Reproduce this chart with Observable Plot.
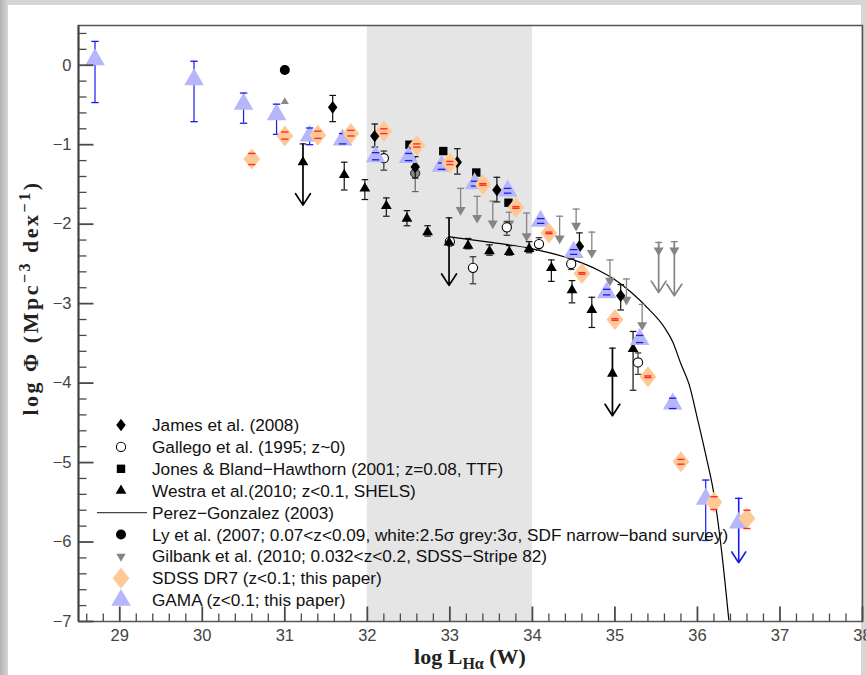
<!DOCTYPE html>
<html><head><meta charset="utf-8">
<script src="https://cdn.jsdelivr.net/npm/d3@7"></script>
<script src="https://cdn.jsdelivr.net/npm/@observablehq/plot@0.6"></script>
<style>
html,body{margin:0;padding:0;}
body{width:866px;height:675px;position:relative;overflow:hidden;background:linear-gradient(90deg,#b4b4b4 0px,#d6d6d6 8px,#d6d6d6 100%);font-family:"Liberation Sans",Arial,sans-serif;}
#panel{position:absolute;left:8px;top:5px;width:853px;height:690px;background:#fff;}
#chart{position:absolute;left:0;top:0;}
#chart svg{overflow:visible;}
#overlay{position:absolute;left:0;top:0;pointer-events:none;}
.ttl{position:absolute;white-space:nowrap;font-family:"Liberation Serif","Times New Roman",serif;font-weight:bold;font-size:22px;line-height:14px;color:#222;}
.ttl sup,.ttl sub{font-size:16px;line-height:0;}
</style></head>
<body>
<div id="panel"></div>
<div id="chart"></div>
<svg id="overlay" width="866" height="675"></svg>
<div class="ttl" id="ytitle" style="left:31px;top:298px;letter-spacing:2.5px;transform:translate(-50%,-50%) rotate(-90deg);">log Φ (Mpc<sup>−3</sup> dex<sup>−1</sup>)</div>
<div class="ttl" id="xtitle" style="left:470px;top:650px;transform:translateX(-50%);">log L<sub>Hα</sub> (W)</div>
<script>
// ---------------- data ----------------
const xTicks = [29,30,31,32,33,34,35,36,37,38];
const yTicks = [-7,-6,-5,-4,-3,-2,-1,0];
const shadeRange = [32, 34];

// GAMA (z<0.1; this paper)
const gamaX  = [28.7,29.9,30.5,30.9,31.3,31.7,32.1,32.5,32.9,33.3,33.7,34.1,34.5,34.9,35.3,35.7,36.1,36.5];
const gamaY  = [0.07,-0.18,-0.49,-0.62,-0.89,-0.94,-1.15,-1.16,-1.27,-1.49,-1.58,-1.96,-2.35,-2.86,-3.45,-4.26,-5.46,-5.76];
const gamaLo = [-0.47,-0.71,-0.73,-0.87,-1.00,-0.99,-1.19,-1.20,-1.31,-1.52,-1.61,-1.99,-2.38,-2.89,-3.49,-4.32,-5.98,-6.26];
const gamaHi = [0.30,0.05,-0.35,-0.49,-0.79,-0.86,-1.10,-1.11,-1.23,-1.46,-1.55,-1.93,-2.32,-2.82,-3.40,-4.19,-5.22,-5.45];
const gamaLimit = [0,0,0,0,0,0,0,0,0,0,0,0,0,0,0,0,0,1];

// SDSS DR7 (z<0.1; this paper)
const sdssX  = [30.6,31.0,31.4,31.8,32.2,32.6,33.0,33.4,33.8,34.2,34.6,35.0,35.4,35.8,36.2,36.6];
const sdssY  = [-1.18,-0.89,-0.88,-0.86,-0.83,-1.01,-1.23,-1.50,-1.79,-2.11,-2.62,-3.20,-3.92,-4.99,-5.50,-5.70];
const sdssLo = [-1.25,-0.93,-0.92,-0.89,-0.86,-1.03,-1.25,-1.51,-1.80,-2.12,-2.63,-3.21,-3.93,-5.02,-5.59,-5.83];
const sdssHi = [-1.11,-0.84,-0.83,-0.82,-0.80,-0.99,-1.21,-1.49,-1.78,-2.10,-2.61,-3.19,-3.91,-4.96,-5.43,-5.60];

// James et al. (2008)
const jamesX  = [31.58,32.09,32.58,33.09,33.57,34.57,35.07];
const jamesY  = [-0.53,-0.89,-1.28,-1.22,-1.57,-2.28,-2.90];
const jamesLo = [-0.71,-1.03,-1.42,-1.37,-1.72,-2.41,-3.08];
const jamesHi = [-0.38,-0.74,-1.15,-1.05,-1.41,-2.11,-2.76];

// Gallego et al. (1995)
const gallegoX  = [32.2,33.0,33.28,33.69,34.08,34.47,35.28];
const gallegoY  = [-1.17,-2.22,-2.55,-2.04,-2.25,-2.50,-3.74];
const gallegoLo = [-1.32,-2.22,-2.75,-2.14,-2.33,-2.57,-3.89];
const gallegoHi = [-1.08,-2.22,-2.41,-1.97,-2.17,-2.43,-3.62];

// Jones & Bland-Hawthorn (2001)
const jonesX = [32.51,32.92,33.32,33.71];
const jonesY = [-1.00,-1.08,-1.35,-1.73];

// Westra et al. (2010)
const westraX  = [31.22,31.72,31.97,32.23,32.48,32.73,32.99,33.22,33.48,33.72,33.96,34.23,34.48,34.72,34.97,35.22];
const westraY  = [-1.22,-1.38,-1.55,-1.77,-1.93,-2.10,-2.23,-2.27,-2.34,-2.35,-2.31,-2.55,-2.83,-3.08,-3.88,-3.57];
const westraLo = [-1.76,-1.57,-1.69,-1.90,-2.02,-2.15,-2.77,-2.31,-2.39,-2.39,-2.36,-2.72,-2.99,-3.30,-4.41,-4.09];
const westraHi = [-0.99,-1.22,-1.44,-1.67,-1.83,-2.02,-1.92,-2.18,-2.26,-2.27,-2.22,-2.45,-2.71,-2.92,-3.56,-3.35];
const westraLimit = [1,0,0,0,0,0,1,0,0,0,0,0,0,0,1,0];

// Perez-Gonzalez (2003) curve
const pgX = [33.0,33.5,34.0,34.5,34.8,35.0,35.2,35.4,35.6,35.7,35.8,35.9,36.0,36.1,36.2,36.3,36.38];
const pgY = [-2.16,-2.23,-2.31,-2.45,-2.58,-2.70,-2.86,-3.06,-3.30,-3.48,-3.76,-4.02,-4.45,-4.90,-5.40,-6.18,-6.98];

// Ly et al. (2007)
const lyX = [31.0];
const lyY = [-0.06];
const lyGreyX = [31.0, 32.58];
const lyGreyY = [-0.46, -1.36];
const lyGreyKind = ["triangle","circle"];
const lyGreyLo = [null, -1.59];
const lyGreyHi = [null, -1.26];

// Gilbank et al. (2010)
const gilX   = [33.13,33.33,33.52,33.72,33.93,34.33,34.53,34.72,34.94,35.14,35.33,35.53,35.72];
const gilY   = [-1.82,-1.92,-1.99,-1.99,-2.15,-2.18,-2.02,-2.36,-2.71,-2.95,-3.27,-2.33,-2.33];
const gilTop = [-1.55,-1.65,-1.71,-1.85,-1.86,-1.90,-1.81,-2.10,-2.45,-2.69,-3.01,-2.23,-2.22];
const gilTip = [null,null,null,null,null,null,null,null,null,null,null,-2.86,-2.90];

const legendLabels = [
  "James et al. (2008)",
  "Gallego et al. (1995; z~0)",
  "Jones & Bland\u2212Hawthorn (2001; z=0.08, TTF)",
  "Westra et al.(2010; z<0.1, SHELS)",
  "Perez\u2212Gonzalez (2003)",
  "Ly et al. (2007; 0.07<z<0.09, white:2.5\u03c3 grey:3\u03c3, SDF narrow\u2212band survey)",
  "Gilbank et al. (2010; 0.032<z<0.2, SDSS\u2212Stripe 82)",
  "SDSS DR7 (z<0.1; this paper)",
  "GAMA (z<0.1; this paper)"
];
const legendKeys = ["james","gallego","jones","westra","perez","ly","gilbank","sdss","gama"];

// ---------------- styles ----------------
const C = {gamaFill:"#b6b6fa", gamaErr:"#1a1aee", sdssFill:"#ffc995", sdssErr:"#ff2a2a", grey:"#858585", shade:"#e5e5e5", axis:"#4a4a4a"};

const rOf = size => Math.sqrt(size/Math.PI);
const diamond = ratio => ({draw(ctx,size){const r=rOf(size),w=r*ratio;ctx.moveTo(0,-r);ctx.lineTo(w,0);ctx.lineTo(0,r);ctx.lineTo(-w,0);ctx.closePath();}});
const triUp = {draw(ctx,size){const r=rOf(size),h=r*Math.sqrt(3);ctx.moveTo(0,-2*h/3);ctx.lineTo(r,h/3);ctx.lineTo(-r,h/3);ctx.closePath();}};
const triDown = {draw(ctx,size){const r=rOf(size),h=r*Math.sqrt(3);ctx.moveTo(0,2*h/3);ctx.lineTo(r,-h/3);ctx.lineTo(-r,-h/3);ctx.closePath();}};
const square = {draw(ctx,size){const r=rOf(size);ctx.rect(-r,-r,2*r,2*r);}};
const circle = {draw(ctx,size){const r=rOf(size);ctx.moveTo(r,0);ctx.arc(0,0,r,0,2*Math.PI);}};
const cap = {draw(ctx,size){const r=rOf(size);ctx.moveTo(-r,0);ctx.lineTo(r,0);}};
const vTick = {draw(ctx,size){const r=rOf(size);ctx.moveTo(0,0);ctx.lineTo(0,-r);}};
const hTick = {draw(ctx,size){const r=rOf(size);ctx.moveTo(0,0);ctx.lineTo(r,0);}};

const zip = (xs, f) => xs.map((x,i) => f(x,i));
const gama = zip(gamaX,(x,i)=>({x,y:gamaY[i],lo:gamaLo[i],hi:gamaHi[i],lim:gamaLimit[i]}));
const sdss = zip(sdssX,(x,i)=>({x,y:sdssY[i],lo:sdssLo[i],hi:sdssHi[i]}));
const james = zip(jamesX,(x,i)=>({x,y:jamesY[i],lo:jamesLo[i],hi:jamesHi[i]}));
const gallego = zip(gallegoX,(x,i)=>({x,y:gallegoY[i],lo:gallegoLo[i],hi:gallegoHi[i]}));
const jones = zip(jonesX,(x,i)=>({x,y:jonesY[i]}));
const westra = zip(westraX,(x,i)=>({x,y:westraY[i],lo:westraLo[i],hi:westraHi[i],lim:westraLimit[i]}));
const pg = zip(pgX,(x,i)=>({x,y:pgY[i]}));
const ly = zip(lyX,(x,i)=>({x,y:lyY[i]}));
const lyGrey = zip(lyGreyX,(x,i)=>({x,y:lyGreyY[i],kind:lyGreyKind[i],lo:lyGreyLo[i],hi:lyGreyHi[i]}));
const gil = zip(gilX,(x,i)=>({x,y:gilY[i],top:gilTop[i],tip:gilTip[i]}));

const xMinor = d3.range(143,191).map(i=>i/5).filter(v=>Math.abs(v-Math.round(v))>1e-6);
const yMinor = d3.range(-35,3).map(i=>i/5).filter(v=>Math.abs(v-Math.round(v))>1e-6);

const errMarks = (data, stroke, capR, sw=1.2) => [
  Plot.ruleX(data.filter(d=>d.lo!=null && d.hi!=null && !d.lim && d.lo!==d.hi), {x:"x", y1:"lo", y2:"hi", stroke, strokeWidth:sw}),
];
const capMarks = (data, stroke, capR, sw=1.2) => {
  const d2 = data.filter(d=>d.lo!=null && d.hi!=null && d.lo!==d.hi);
  return [
    Plot.dot(d2.filter(d=>!d.lim), {x:"x", y:"lo", symbol:cap, r:capR, stroke, strokeWidth:sw, fill:"none"}),
    Plot.dot(d2, {x:"x", y:"hi", symbol:cap, r:capR, stroke, strokeWidth:sw, fill:"none"})
  ];
};
const limitArrows = (data, stroke, sw=1.6) =>
  Plot.arrow(data.filter(d=>d.lim), {x1:"x", x2:"x", y1:"hi", y2:"lo", stroke, strokeWidth:sw, headAngle:66, headLength:12});

const chart = Plot.plot({
  width: 866, height: 675,
  marginLeft: 78, marginTop: 25, marginRight: 4, marginBottom: 54,
  x: {domain:[28.5,38]},
  y: {domain:[-7,0.5]},
  style: {fontFamily:"'Liberation Sans', Arial, sans-serif", fontSize:"16.5px", color:"#444", background:"transparent"},
  marks: [
    Plot.rect([{x1:shadeRange[0], x2:shadeRange[1]}], {x1:"x1", x2:"x2", fill:C.shade}),
    // Perez-Gonzalez curve
    Plot.line(pg, {x:"x", y:"y", curve:"monotone-x", stroke:"#000", strokeWidth:1.2, clip:true}),
    // Gilbank
    Plot.ruleX(gil, {x:"x", y1:"y", y2:"top", stroke:C.grey, strokeWidth:1.3}),
    Plot.arrow(gil.filter(d=>d.tip!=null), {x1:"x", x2:"x", y1:"top", y2:"tip", stroke:C.grey, strokeWidth:1.7, headAngle:66, headLength:12}),
    Plot.dot(gil, {x:"x", y:"top", symbol:cap, r:3.5, stroke:C.grey, strokeWidth:1.3}),
    Plot.dot(gil, {x:"x", y:"y", symbol:triDown, r:5, fill:C.grey, stroke:"none"}),
    // Gallego
    ...errMarks(gallego, "#333", 3.3),
    ...capMarks(gallego, "#333", 3.3),
    Plot.dot(gallego, {x:"x", y:"y", symbol:circle, r:4.6, fill:"#fff", stroke:"#000", strokeWidth:1.1}),
    // Ly grey
    Plot.ruleX(lyGrey.filter(d=>d.lo!=null), {x:"x", y1:"lo", y2:"hi", stroke:"#666", strokeWidth:1.2}),
    Plot.dot(lyGrey.filter(d=>d.lo!=null), {x:"x", y:"lo", symbol:cap, r:3.3, stroke:"#666", strokeWidth:1.2}),
    Plot.dot(lyGrey.filter(d=>d.lo!=null), {x:"x", y:"hi", symbol:cap, r:3.3, stroke:"#666", strokeWidth:1.2}),
    Plot.dot(lyGrey.filter(d=>d.kind==="circle"), {x:"x", y:"y", symbol:circle, r:4.6, fill:"#888", stroke:"#222", strokeWidth:1}),
    Plot.dot(lyGrey.filter(d=>d.kind==="triangle"), {x:"x", y:"y", symbol:triUp, r:4, fill:"#888", stroke:"none"}),
    // Ly black
    Plot.dot(ly, {x:"x", y:"y", symbol:circle, r:5, fill:"#000", stroke:"none"}),
    // Jones
    Plot.dot(jones, {x:"x", y:"y", symbol:square, r:4.2, fill:"#000", stroke:"none"}),
    // James
    ...errMarks(james, "#111", 3.3),
    ...capMarks(james, "#111", 3.3),
    Plot.dot(james, {x:"x", y:"y", symbol:diamond(0.75), r:6.3, fill:"#000", stroke:"none"}),
    // Westra
    ...errMarks(westra, "#111", 3.3),
    limitArrows(westra, "#000", 1.7),
    ...capMarks(westra, "#111", 3.3),
    Plot.dot(westra, {x:"x", y:"y", symbol:triUp, r:5.4, fill:"#000", stroke:"none"}),
    // GAMA
    ...errMarks(gama, C.gamaErr, 3.7),
    limitArrows(gama, C.gamaErr, 1.6),
    Plot.dot(gama, {x:"x", y:"y", symbol:triUp, r:9.8, fill:C.gamaFill, stroke:"none"}),
    ...capMarks(gama, C.gamaErr, 3.7, 1.3),
    // SDSS
    Plot.dot(sdss, {x:"x", y:"y", symbol:diamond(0.8), r:10.5, fill:C.sdssFill, stroke:"none"}),
    ...capMarks(sdss, C.sdssErr, 3.6, 1.4),
    // axes
    Plot.frame({stroke:"#555", strokeWidth:1.5}),
    Plot.dot(xTicks, {x:d=>d, frameAnchor:"bottom", symbol:vTick, r:15, stroke:C.axis, strokeWidth:1.8}),
    Plot.dot(xMinor, {x:d=>d, frameAnchor:"bottom", symbol:vTick, r:8, stroke:C.axis, strokeWidth:1.3}),
    Plot.dot(yTicks, {y:d=>d, frameAnchor:"left", symbol:hTick, r:15, stroke:C.axis, strokeWidth:1.8}),
    Plot.dot(yMinor, {y:d=>d, frameAnchor:"left", symbol:hTick, r:8, stroke:C.axis, strokeWidth:1.3}),
    Plot.axisX(xTicks, {tickSize:0, tickPadding:8, label:null, tickFormat:"d", fill:"#444"}),
    Plot.axisY(yTicks, {tickSize:0, tickPadding:7, label:null, tickFormat:"d", fill:"#444"}),
    Plot.ruleX([28.5], {stroke:"#444", strokeWidth:2})
  ]
});
document.getElementById("chart").appendChild(chart);

// ---------------- legend ----------------
const ov = d3.select("#overlay");
const sym = (type, r) => d3.symbol(type, Math.PI*r*r)();
const legendStyle = {
  james:   g=>g.append("path").attr("d", sym(diamond(0.75), 6.3)).attr("fill","#000"),
  gallego: g=>g.append("path").attr("d", sym(circle, 4.6)).attr("fill","#fff").attr("stroke","#000").attr("stroke-width",1.1),
  jones:   g=>g.append("path").attr("d", sym(square, 4.2)).attr("fill","#000"),
  westra:  g=>g.append("path").attr("d", sym(triUp, 5.4)).attr("fill","#000"),
  perez:   g=>g.append("line").attr("x1",-24).attr("x2",26).attr("stroke","#444").attr("stroke-width",1.2),
  ly:      g=>g.append("path").attr("d", sym(circle, 5)).attr("fill","#000"),
  gilbank: g=>g.append("path").attr("d", sym(triDown, 4.6)).attr("fill",C.grey),
  sdss:    g=>g.append("path").attr("d", sym(diamond(0.8), 10.5)).attr("fill",C.sdssFill),
  gama:    g=>g.append("path").attr("d", sym(triUp, 9.8)).attr("fill",C.gamaFill)
};
legendLabels.forEach((lab,i) => {
  const cy = 425 + i*21.9;
  const g = ov.append("g").attr("transform", `translate(121,${cy})`);
  legendStyle[legendKeys[i]](g);
  ov.append("text").attr("x",152).attr("y",cy).attr("dy","0.35em")
    .attr("font-family","'Liberation Sans', Arial, sans-serif").attr("font-size",17.2).attr("fill","#111").text(lab);
});
</script>
</body></html>
